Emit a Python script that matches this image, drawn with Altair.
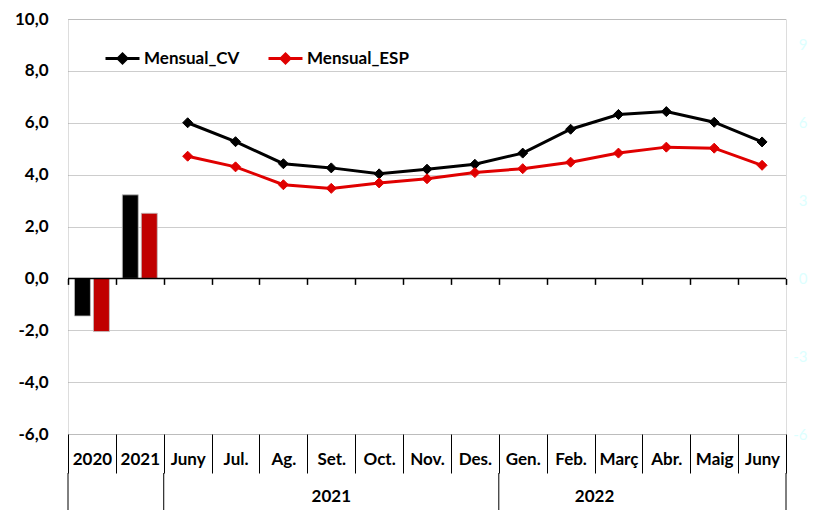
import altair as alt
import pandas as pd

# ---------------- data ----------------
periods = ["2020", "2021", "Juny", "Jul.", "Ag.", "Set.", "Oct.", "Nov.", "Des.",
           "Gen.", "Feb.", "Març", "Abr.", "Maig", "Juny"]
period_years = ["2020", "2021", "2021", "2021", "2021", "2021", "2021", "2021", "2021",
                "2022", "2022", "2022", "2022", "2022", "2022"]
keys = [f"{p}|{y}" for p, y in zip(periods, period_years)]

annual_keys = keys[:2]
annual_series = ["CV", "ESP"]
annual_cv = [-1.45, 3.22]
annual_esp = [-2.05, 2.51]

monthly_keys = keys[2:]
series_names = ["Mensual_CV", "Mensual_ESP"]
monthly_cv = [6.00, 5.27, 4.42, 4.26, 4.03, 4.21, 4.40, 4.83, 5.75, 6.32, 6.43, 6.02, 5.26]
monthly_esp = [4.71, 4.30, 3.61, 3.47, 3.68, 3.84, 4.08, 4.23, 4.48, 4.83, 5.06, 5.02, 4.36]

y_ticks = [-6, -4, -2, 0, 2, 4, 6, 8, 10]
right_ticks = [-6, -3, 0, 3, 6, 9]

group_start_keys = [keys[0], keys[2], keys[9]]
group_end_keys = [keys[-1]]
group_labels = ["2021", "2022"]
group_label_keys = ["Set.|2021", "Març|2022"]

# ---------------- tables ----------------
bar_df = pd.DataFrame({
    "key": annual_keys * 2,
    "series": [annual_series[0]] * 2 + [annual_series[1]] * 2,
    "value": annual_cv + annual_esp,
})
line_df = pd.DataFrame({
    "key": monthly_keys * 2,
    "series": [series_names[0]] * len(monthly_keys) + [series_names[1]] * len(monthly_keys),
    "value": monthly_cv + monthly_esp,
})

W, H = 718, 415
FONT = "Lato"

xscale = alt.Scale(type="band", domain=keys, paddingInner=0, paddingOuter=0)
yscale = alt.Scale(domain=[-6, 10], nice=False, zero=False)

def xenc(axis=None, **kw):
    return alt.X("key:N", scale=xscale, sort=keys, axis=axis, title=None, **kw)

num_expr = "replace(replace(format(datum.value, '.1f'), '.', ','), '\u2212', '-')"

bars = alt.Chart(bar_df).mark_bar(stroke="#BFBFBF", strokeWidth=0.8).encode(
    x=xenc(alt.Axis(orient="bottom", offset=-H * 6 / 16, domain=False, labels=False,
                    ticks=True, tickSize=6, tickWidth=1.5, tickColor="#000",
                    tickBand="extent", grid=False, title=None)),
    xOffset=alt.XOffset("series:N", scale=alt.Scale(domain=annual_series,
                                                    paddingInner=0.16, paddingOuter=0.34)),
    y=alt.Y("value:Q", scale=yscale, title=None,
            axis=alt.Axis(values=y_ticks, grid=True, gridDash=[1, 1], gridColor="#9A9A9A",
                          gridWidth=1, domain=False, ticks=False, labelPadding=20,
                          labelExpr=num_expr, labelFont=FONT, labelFontWeight="bold",
                          labelFontSize=17, labelColor="#000", title=None)),
    color=alt.Color("series:N", scale=alt.Scale(domain=annual_series,
                                                range=["#000000", "#C00000"]), legend=None),
)

zero = alt.Chart(pd.DataFrame({"z": [0]})).mark_rule(color="#000", strokeWidth=1.5).encode(
    y=alt.Y("z:Q", scale=yscale, axis=None)
)

lines = alt.Chart(line_df).mark_line(strokeWidth=3).encode(
    x=xenc(alt.Axis(orient="bottom", domain=False, ticks=True, tickSize=39,
                    tickBand="extent", tickColor="#000", tickWidth=1,
                    labelExpr="split(datum.label, '|')[0]", labelPadding=-22,
                    labelAngle=0, labelFont=FONT, labelFontWeight="bold",
                    labelFontSize=17, labelColor="#000", grid=False, title=None)),
    y=alt.Y("value:Q", scale=yscale, title=None,
            axis=alt.Axis(orient="right", values=right_ticks, labelColor="#DDFFFF",
                          domain=False, ticks=False, grid=False, labelPadding=21,
                          labelAlign="right", labelFont=FONT, labelFontSize=15, title=None,
                          labelExpr="replace(datum.label, '\u2212', '-')")),
    color=alt.Color("series:N", scale=alt.Scale(domain=series_names,
                                                range=["#000000", "#E00000"]), legend=None),
)

leg = alt.Legend(title=None, orient="none", legendX=36, legendY=21, direction="horizontal",
                 symbolType="M-1,0L1,0M0,-0.26L0.26,0L0,0.26L-0.26,0Z", symbolSize=1156,
                 symbolStrokeWidth=3, labelFont=FONT, labelFontWeight="bold",
                 labelFontSize=17, labelColor="#000", labelOffset=3, columnPadding=22,
                 padding=0, symbolOpacity=1)

points = alt.Chart(line_df).mark_point(filled=True, shape="diamond", size=100,
                                       strokeWidth=1, opacity=1).encode(
    x=xenc(),
    y=alt.Y("value:Q", scale=yscale, axis=None),
    fill=alt.Fill("series:N", scale=alt.Scale(domain=series_names,
                                              range=["#000000", "#E00000"]), legend=leg),
    stroke=alt.Stroke("series:N", scale=alt.Scale(domain=series_names,
                                                  range=["#000000", "#E00000"]), legend=leg),
)

seps = alt.Chart(pd.DataFrame({"key": group_start_keys})).mark_rule(color="#000", strokeWidth=1).encode(
    x=xenc(bandPosition=0), y=alt.value(H + 39), y2=alt.value(H + 80)
)
seps_end = alt.Chart(pd.DataFrame({"key": group_end_keys})).mark_rule(color="#000", strokeWidth=1).encode(
    x=xenc(bandPosition=1), y=alt.value(H + 39), y2=alt.value(H + 80)
)

txt_kw = dict(font=FONT, fontWeight="bold", fontSize=17, baseline="middle", color="#000")
g1 = alt.Chart(pd.DataFrame({"key": group_label_keys[:1], "label": group_labels[:1]})).mark_text(**txt_kw).encode(
    x=xenc(bandPosition=0.5), y=alt.value(H + 63), text="label:N"
)
g2 = alt.Chart(pd.DataFrame({"key": group_label_keys[1:], "label": group_labels[1:]})).mark_text(**txt_kw).encode(
    x=xenc(bandPosition=0), y=alt.value(H + 63), text="label:N"
)

chart = alt.layer(bars, zero, lines, points, seps, seps_end, g1, g2).resolve_scale(
    color="independent"
).resolve_axis(
    x="independent", y="independent"
).properties(
    width=W, height=H,
    padding={"left": 60, "top": 11, "right": 23, "bottom": 76},
    autosize=alt.AutoSizeParams(type="none"),
).configure_view(
    stroke="#000", strokeWidth=2
).configure(background="white")

chart.save("out.html", embed_options={"renderer": "svg", "actions": False})
